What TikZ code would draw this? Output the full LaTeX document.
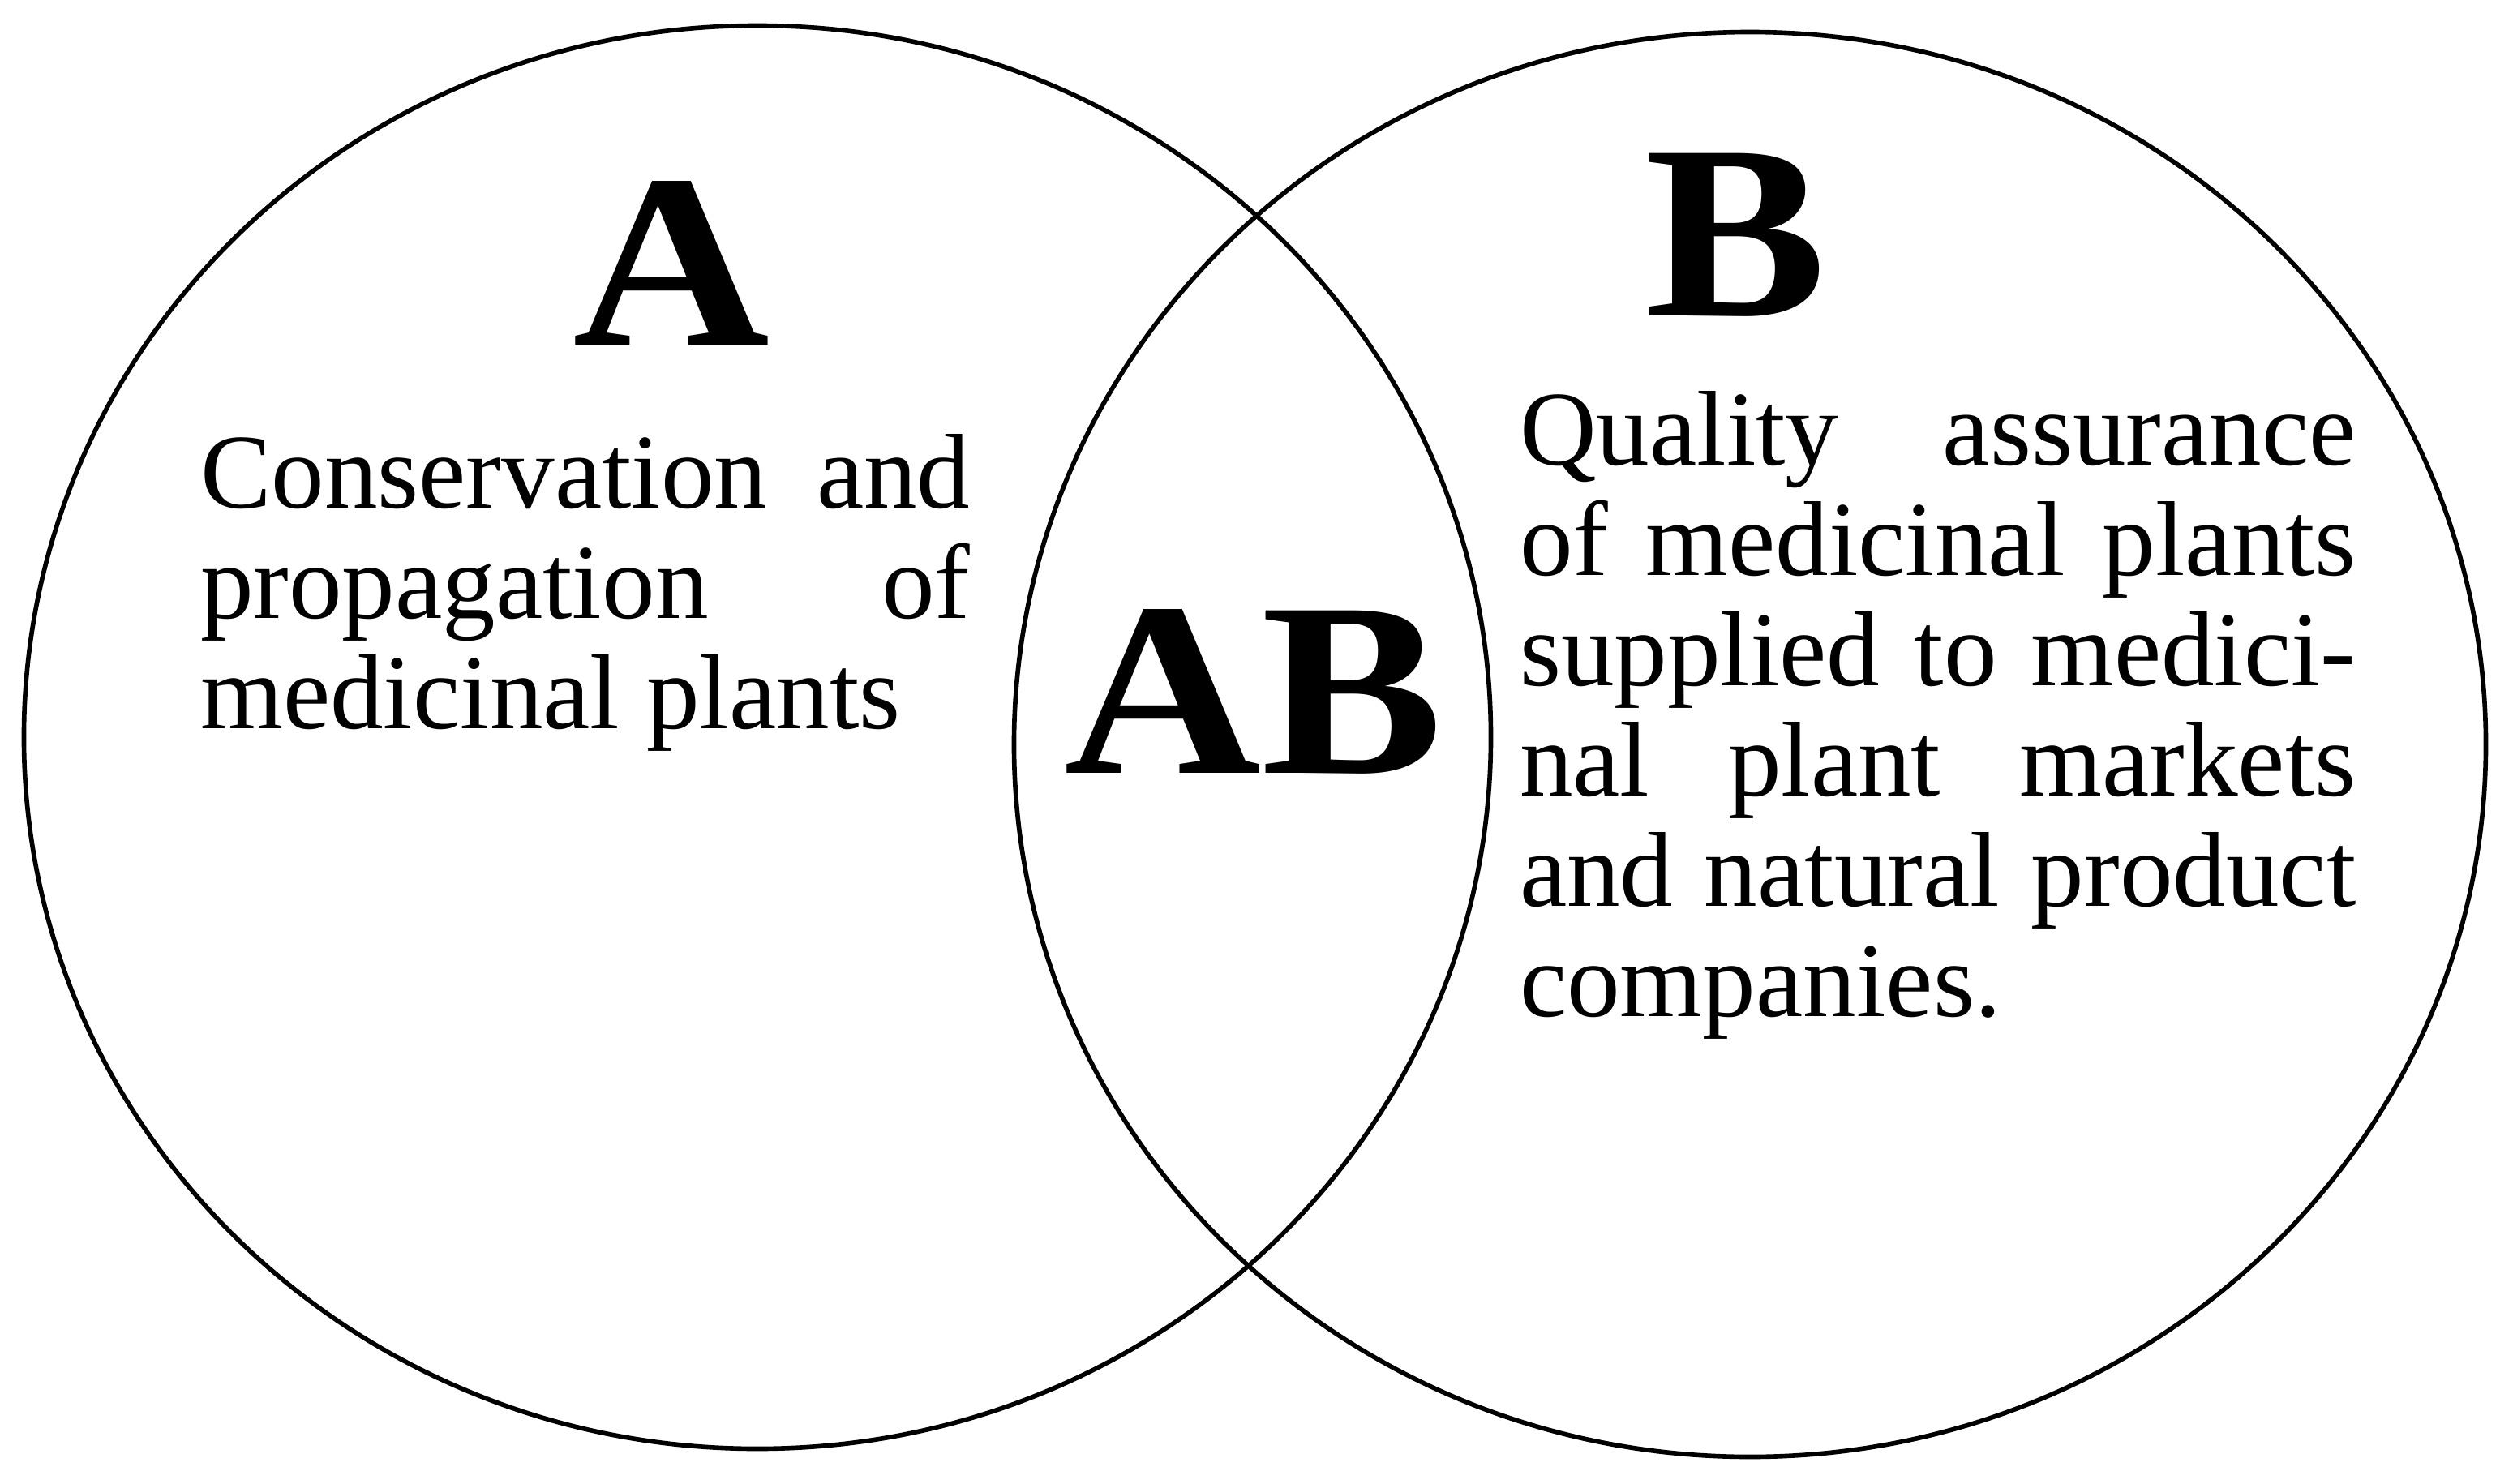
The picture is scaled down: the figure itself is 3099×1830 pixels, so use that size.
\documentclass[tikz,border=0pt]{standalone}
\usepackage{fontspec}
\setmainfont{Liberation Serif}
\tikzset{
  ring/.style={draw=black, line width=1.6pt},
  bodytext/.style={inner sep=0pt, outer sep=0pt, anchor=base west, font=\fontsize{37.3}{38.7}\selectfont},
  bigletter/.style={inner sep=0pt, outer sep=0pt, anchor=base, font=\fontsize{87}{90}\selectfont\bfseries}
}
\newcommand{\widen}[1]{\scalebox{1.1}[1]{#1}}
\begin{document}
\begin{tikzpicture}[x=0.01cm, y=-0.01cm]
\useasboundingbox (0,0) rectangle (3099,1830);
\fill[white] (0,0) rectangle (3099,1830);
% circles
\draw[ring] (934,909) ellipse [x radius=9.04cm, y radius=8.77cm];
\draw[ring] (2158,918) ellipse [x radius=9.07cm, y radius=8.78cm];
% big letters
\node[bigletter] (nA) at (828,425) {\widen{A}};
\node[bigletter] (nB) at (2141,389) {\widen{B}};
\node[bigletter] (nAB) at (1546,953) {\widen{AB}};
% left text
\node[bodytext] (la1) at (247,626) {\makebox[9.49cm][s]{Conservation and}};
\node[bodytext] (la2) at (247,762) {\makebox[9.49cm][s]{propagation of}};
\node[bodytext] (la3) at (247,898) {medicinal plants};
% right text
\node[bodytext] (lb1) at (1874,573) {\makebox[10.31cm][s]{Quality assurance}};
\node[bodytext] (lb2) at (1874,709) {\makebox[10.31cm][s]{of medicinal plants}};
\node[bodytext] (lb3) at (1874,845) {\makebox[10.31cm][s]{supplied to medici-}};
\node[bodytext] (lb4) at (1874,981) {\makebox[10.31cm][s]{nal plant markets}};
\node[bodytext] (lb5) at (1874,1117) {\makebox[10.31cm][s]{and natural product}};
\node[bodytext] (lb6) at (1874,1253) {companies.};
\end{tikzpicture}
\end{document}
